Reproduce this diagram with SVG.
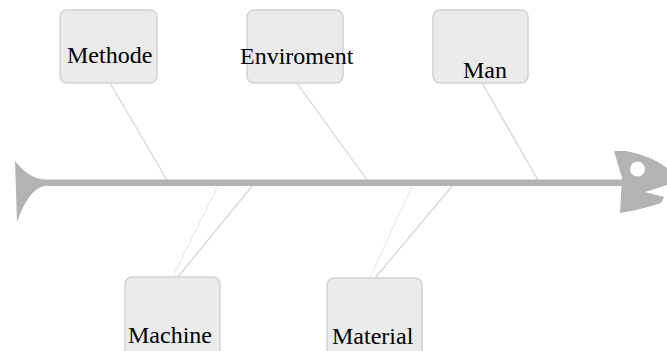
<svg xmlns="http://www.w3.org/2000/svg" width="667" height="351" viewBox="0 0 667 351">
<style>
.box{fill:#ebebeb;stroke:#d2d2d2;stroke-width:1.5}
.lbl{font-family:"Liberation Serif","Times New Roman",serif;font-size:24px;fill:#000}
.bone{stroke:#d4d4d4;stroke-width:1.2;fill:none}
.bone2{stroke:#e6e6e6;stroke-width:1;fill:none}
.fish{fill:#b3b3b3}
</style>
<rect width="667" height="351" fill="#fff"/>
<g id="connectors">
<line class="bone" x1="110" y1="83" x2="167" y2="180"/>
<line class="bone" x1="297" y1="83" x2="367" y2="180"/>
<line class="bone" x1="482" y1="83" x2="538" y2="180"/>
<line class="bone" x1="253" y1="185" x2="177" y2="278"/>
<line class="bone2" x1="218" y1="186" x2="172" y2="278"/>
<line class="bone" x1="453" y1="185" x2="375" y2="278"/>
<line class="bone2" x1="412" y1="186" x2="370" y2="278"/>
</g>
<g id="spine">
<path class="fish" d="M15,161 Q28,178 44,179.5 L44,186 Q28,190 17,222 Z"/>
<rect class="fish" x="40" y="179.5" width="582" height="6.5"/>
<path class="fish" d="M614,151 L626,151 Q652,156 667,168 L667,185 L645,192 L664,197 L661,203 Q640,210 620,213 L622,178 Z"/>
<circle cx="637.5" cy="169" r="7.5" fill="#fff"/>
</g>
<g id="methode">
<rect class="box" x="60" y="10" width="97" height="73" rx="7"/>
<text class="lbl" x="67" y="63">Methode</text>
</g>
<g id="enviroment">
<rect class="box" x="247" y="10" width="96" height="73" rx="7"/>
<text class="lbl" x="240" y="64">Enviroment</text>
</g>
<g id="man">
<rect class="box" x="433" y="10" width="95" height="73" rx="7"/>
<text class="lbl" x="463" y="78">Man</text>
</g>
<g id="machine">
<rect class="box" x="125" y="277" width="95" height="80" rx="7"/>
<text class="lbl" x="128" y="343">Machine</text>
</g>
<g id="material">
<rect class="box" x="327" y="278" width="95" height="80" rx="7"/>
<text class="lbl" x="332" y="344">Material</text>
</g>
</svg>
